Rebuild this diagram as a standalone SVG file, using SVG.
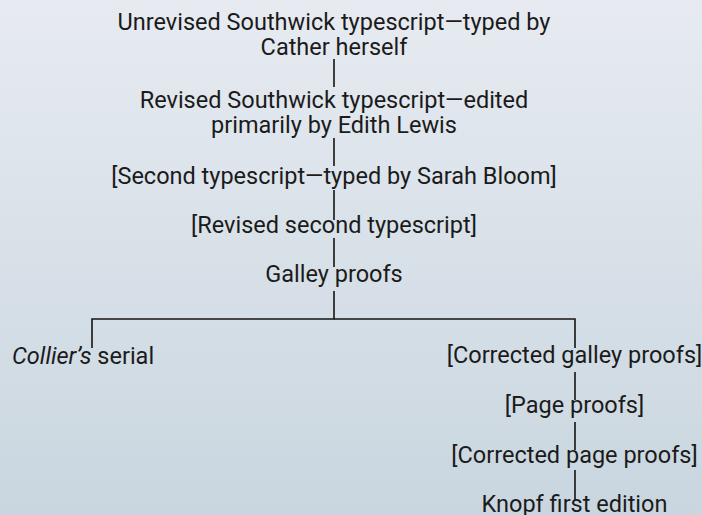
<svg xmlns="http://www.w3.org/2000/svg" width="702" height="515" viewBox="0 0 702 515">
<defs>
<linearGradient id="bg" x1="0" y1="0" x2="0" y2="1">
<stop offset="0" stop-color="#e7ebf1"/>
<stop offset="1" stop-color="#c9d6df"/>
</linearGradient>
<style>
text{font-family:Roboto,"Noto Sans",sans-serif;font-size:23.5px;fill:#1b1b1b;text-anchor:middle}
.l{text-anchor:start}
.c{fill:none;stroke:#141414;stroke-width:1.6}
</style>
</defs>
<rect width="702" height="515" fill="url(#bg)"/>
<g id="connectors">
<path class="c" d="M334 59V87"/>
<path class="c" d="M334 138V166"/>
<path class="c" d="M334 190V220"/>
<path class="c" d="M334 238V267"/>
<path class="c" d="M334 291V319H92V348"/>
<path class="c" d="M334 319H575V348"/>
<path class="c" d="M575 372V400"/>
<path class="c" d="M575 422V450"/>
<path class="c" d="M575 470V500"/>
</g>
<g id="n1"><text x="334" y="29.5">Unrevised Southwick typescript—typed by</text><text x="334" y="55">Cather herself</text></g>
<g id="n2"><text x="334" y="108">Revised Southwick typescript—edited</text><text x="334" y="133">primarily by Edith Lewis</text></g>
<g id="n3"><text x="334" y="184">[Second typescript—typed by Sarah Bloom]</text></g>
<g id="n4"><text x="334" y="233">[Revised second typescript]</text></g>
<g id="n5"><text x="334" y="282">Galley proofs</text></g>
<g id="n6"><text class="l" x="12" y="364"><tspan font-style="italic">Collier’s</tspan> serial</text></g>
<g id="n7"><text x="574.5" y="363">[Corrected galley proofs]</text></g>
<g id="n8"><text x="574.5" y="413">[Page proofs]</text></g>
<g id="n9"><text x="574.5" y="463">[Corrected page proofs]</text></g>
<g id="n10"><text x="574.5" y="512">Knopf first edition</text></g>
</svg>
